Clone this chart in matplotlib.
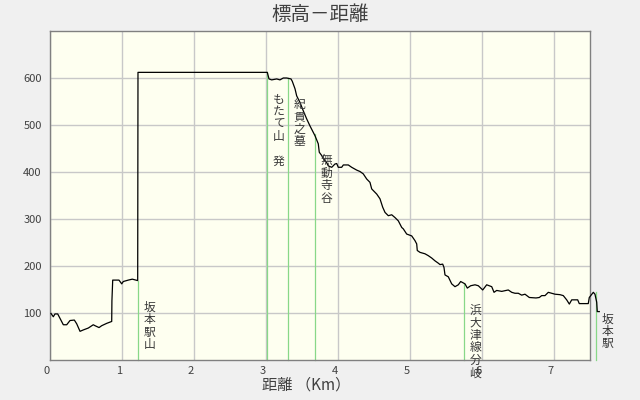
import matplotlib
matplotlib.use('Agg')
import matplotlib.pyplot as plt
import matplotlib.transforms as mtransforms

plt.rcParams['font.family'] = ['Noto Sans CJK JP', 'DejaVu Sans']

# 距離 (km) と標高 (m)
dist = [0.014, 0.046, 0.069, 0.107, 0.185, 0.232, 0.278, 0.338, 0.371, 0.417,
        0.463, 0.532, 0.601, 0.625, 0.681, 0.718, 0.788, 0.857, 0.860, 0.871,
        0.958, 0.996, 1.018, 1.087, 1.143, 1.218, 1.222, 3.018, 3.042, 3.079,
        3.149, 3.194, 3.240, 3.288, 3.347, 3.365, 3.403, 3.426, 3.472, 3.518,
        3.565, 3.611, 3.657, 3.681, 3.726, 3.740, 3.774, 3.800, 3.850, 3.865,
        3.913, 3.958, 3.982, 4.004, 4.051, 4.074, 4.143, 4.190, 4.260, 4.306,
        4.351, 4.399, 4.444, 4.468, 4.538, 4.583, 4.621, 4.653, 4.699, 4.746,
        4.792, 4.838, 4.885, 4.907, 4.954, 5.024, 5.069, 5.093, 5.101, 5.139,
        5.208, 5.254, 5.301, 5.347, 5.393, 5.417, 5.454, 5.472, 5.486, 5.532,
        5.579, 5.625, 5.671, 5.704, 5.764, 5.796, 5.843, 5.903, 5.949, 6.010,
        6.065, 6.135, 6.167, 6.204, 6.274, 6.365, 6.413, 6.458, 6.504, 6.551,
        6.597, 6.657, 6.750, 6.796, 6.829, 6.875, 6.921, 6.968, 7.014, 7.083,
        7.129, 7.176, 7.213, 7.246, 7.329, 7.351, 7.476, 7.490, 7.546, 7.569,
        7.593, 7.601, 7.629]
elev = [99, 92, 98, 98, 75, 75, 84, 85, 77, 61,
        64, 68, 75, 73, 69, 73, 78, 82, 126, 170,
        170, 162, 167, 170, 172, 169, 612, 612, 598, 596,
        598, 596, 600, 600, 598, 593, 577, 562, 548, 530,
        513, 498, 484, 477, 460, 442, 435, 428, 418, 413,
        410, 417, 418, 410, 410, 415, 415, 410, 404, 401,
        396, 385, 378, 364, 353, 343, 325, 314, 307, 309,
        303, 296, 282, 279, 268, 264, 254, 247, 233, 229,
        226, 222, 217, 211, 206, 203, 204, 197, 181, 177,
        162, 156, 160, 167, 162, 153, 158, 160, 158, 149,
        160, 156, 144, 148, 146, 149, 144, 142, 142, 138,
        140, 133, 132, 133, 137, 137, 144, 142, 140, 139,
        137, 128, 119, 128, 128, 120, 120, 133, 144, 140,
        123, 103, 103]

# 地点
point_names = ['坂本駅山', 'もたて山　発', '紀貫之墓', '無動寺谷', '浜大津線分岐', '坂本駅']
point_dist = [1.227, 3.02, 3.31, 3.68, 5.755, 7.59]
point_elev = [169, 612, 600, 480, 162, 144]

x_ticks = [0, 1, 2, 3, 4, 5, 6, 7]
y_ticks = [100, 200, 300, 400, 500, 600]

fig = plt.figure(figsize=(6.4, 4.0), dpi=100, facecolor='#f0f0f0')
ax = fig.add_axes([50 / 640, 40 / 400, 540 / 640, 329 / 400])
ax.set_facecolor('#fefff0')

ax.set_xlim(0, 7.5)
ax.set_ylim(0, 700)
ax.set_xticks(x_ticks)
ax.set_yticks(y_ticks)
ax.grid(True, color='#c8c8c8', linewidth=1.0)
ax.set_axisbelow(True)
ax.tick_params(length=0, labelsize=8, labelcolor='#404040')
ax.tick_params(axis='x', pad=4)
ax.tick_params(axis='y', pad=6)
for s in ax.spines.values():
    s.set_color('#808080')
    s.set_linewidth(1.0)

# x目盛ラベルを少し左へ
shift = mtransforms.ScaledTranslation(-3 / 100, 0, fig.dpi_scale_trans)
for lbl in ax.get_xticklabels():
    lbl.set_transform(lbl.get_transform() + shift)

# 地点の縦線
for name, d, e in zip(point_names, point_dist, point_elev):
    ax.plot([d, d], [0, e], color='#88d888', linewidth=0.9, clip_on=False, zorder=2)
    ax.annotate('\n'.join(name), xy=(d, e), xytext=(11, -20),
                textcoords='offset pixels', ha='center', va='top',
                fontsize=8.5, color='#383838', linespacing=0.95,
                annotation_clip=False, zorder=4)

ax.plot(dist, elev, color='black', linewidth=0.9, clip_on=False, zorder=3)

fig.text(0.5, 1 - 14 / 400, '標高－距離', ha='center', va='center',
         fontsize=14, color='#404040')
fig.text(306 / 640, 1 - 385 / 400, '距離 （Km）', ha='center', va='center',
         fontsize=11, color='#404040')

fig.savefig('out.png', dpi=100, facecolor=fig.get_facecolor())
